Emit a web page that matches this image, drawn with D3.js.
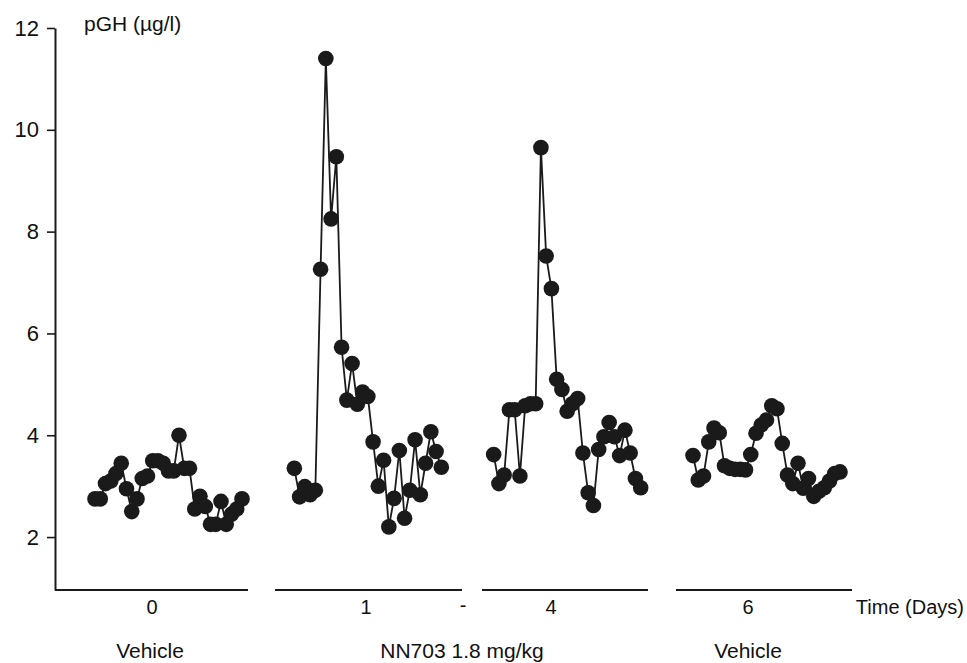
<!DOCTYPE html>
<html><head><meta charset="utf-8">
<script src="https://cdn.jsdelivr.net/npm/d3@7"></script>
<style>
html,body{margin:0;padding:0;background:#fff;}
text{font-family:"Liberation Sans",Arial,sans-serif;fill:#111;}
</style></head>
<body><svg id="c" width="967" height="663"></svg>
<script>
// ---- data ----
const segments = ["0", "1", "4", "6"];
const day0 = [2.75, 2.75, 3.05, 3.1, 3.25, 3.45, 2.95, 2.5, 2.75, 3.15, 3.2, 3.5, 3.5, 3.45, 3.3, 3.3, 4.0, 3.35, 3.35, 2.55, 2.8, 2.6, 2.25, 2.25, 2.7, 2.25, 2.45, 2.55, 2.75];
const day1 = [3.35, 2.79, 2.99, 2.83, 2.92, 7.26, 11.4, 8.25, 9.47, 5.73, 4.69, 5.41, 4.61, 4.85, 4.76, 3.87, 3.0, 3.51, 2.2, 2.76, 3.7, 2.37, 2.92, 3.91, 2.83, 3.45, 4.07, 3.68, 3.37];
const day4 = [3.62, 3.05, 3.22, 4.5, 4.5, 3.2, 4.58, 4.62, 4.62, 9.65, 7.52, 6.88, 5.1, 4.9, 4.47, 4.62, 4.72, 3.65, 2.87, 2.62, 3.72, 3.97, 4.25, 3.97, 3.6, 4.1, 3.65, 3.15, 2.97];
const day6 = [3.6, 3.12, 3.2, 3.87, 4.14, 4.05, 3.4, 3.35, 3.33, 3.33, 3.32, 3.62, 4.04, 4.2, 4.3, 4.58, 4.52, 3.84, 3.22, 3.05, 3.45, 2.96, 3.15, 2.8, 2.9, 2.97, 3.1, 3.25, 3.28];
const series = [day0, day1, day4, day6];
const yTicks = [2, 4, 6, 8, 10, 12];
const treatments = ["Vehicle", "NN703 1.8 mg/kg", "Vehicle"];
const yLabel = "pGH (\u00b5g/l)";
const xLabel = "Time (Days)";

// ---- layout ----
const svg = d3.select("#c");
const y = d3.scaleLinear().domain([0.96, 12]).range([590, 28]);
const xSeg = d3.scaleLinear().domain([0, 3]).range([95, 693]);
const xIn = d3.scaleLinear().domain([0, 28]).range([0, 147]);
const axisSpans = [[55, 248], [275, 462], [482, 648], [676, 852]];
const ink = "#1a1a1a";
const fs = 20;

// y axis
const yAxis = svg.append("g").attr("transform", "translate(55,0)")
  .call(d3.axisLeft(y).tickValues(yTicks).tickFormat(d3.format("d")).tickSize(8).tickSizeOuter(0).tickPadding(8));
yAxis.select(".domain").attr("stroke", ink).attr("stroke-width", 2);
yAxis.selectAll(".tick line").attr("stroke", ink).attr("stroke-width", 1.6);
yAxis.selectAll(".tick text").attr("font-size", 22).attr("font-family", "Liberation Sans, Arial, sans-serif").attr("fill", "#111");

svg.append("text").attr("x", 84).attr("y", 31).attr("font-size", 21).text(yLabel);

// x axis segments
svg.selectAll("line.xseg").data(axisSpans).enter().append("line")
  .attr("class", "xseg")
  .attr("x1", d => d[0]).attr("x2", d => d[1])
  .attr("y1", y(0.96)).attr("y2", y(0.96))
  .attr("stroke", ink).attr("stroke-width", 2);

// x tick labels
const segCenters = [152, 366, 551, 748];
svg.selectAll("text.seglab").data(segments).enter().append("text")
  .attr("class", "seglab")
  .attr("x", (d, i) => segCenters[i]).attr("y", 614)
  .attr("text-anchor", "middle").attr("font-size", fs).text(d => d);
svg.append("text").attr("x", 463).attr("y", 612).attr("text-anchor", "middle").attr("font-size", fs).text("-");
svg.append("text").attr("x", 964).attr("y", 614).attr("text-anchor", "end").attr("font-size", fs).text(xLabel);

// treatment labels
const treatCenters = [150, 462, 748];
svg.selectAll("text.treat").data(treatments).enter().append("text")
  .attr("class", "treat")
  .attr("x", (d, i) => treatCenters[i]).attr("y", 658)
  .attr("text-anchor", "middle").attr("font-size", 21).text(d => d);

// series
const line = d3.line().x(d => d.x).y(d => y(d.v));
series.forEach((vals, si) => {
  const pts = vals.map((v, i) => ({ x: xSeg(si) + xIn(i), v }));
  svg.append("path").datum(pts).attr("d", line)
    .attr("fill", "none").attr("stroke", ink).attr("stroke-width", 1.8);
  svg.append("g").selectAll("circle").data(pts).enter().append("circle")
    .attr("cx", d => d.x).attr("cy", d => y(d.v)).attr("r", 7.8)
    .attr("fill", ink);
});
</script></body></html>
